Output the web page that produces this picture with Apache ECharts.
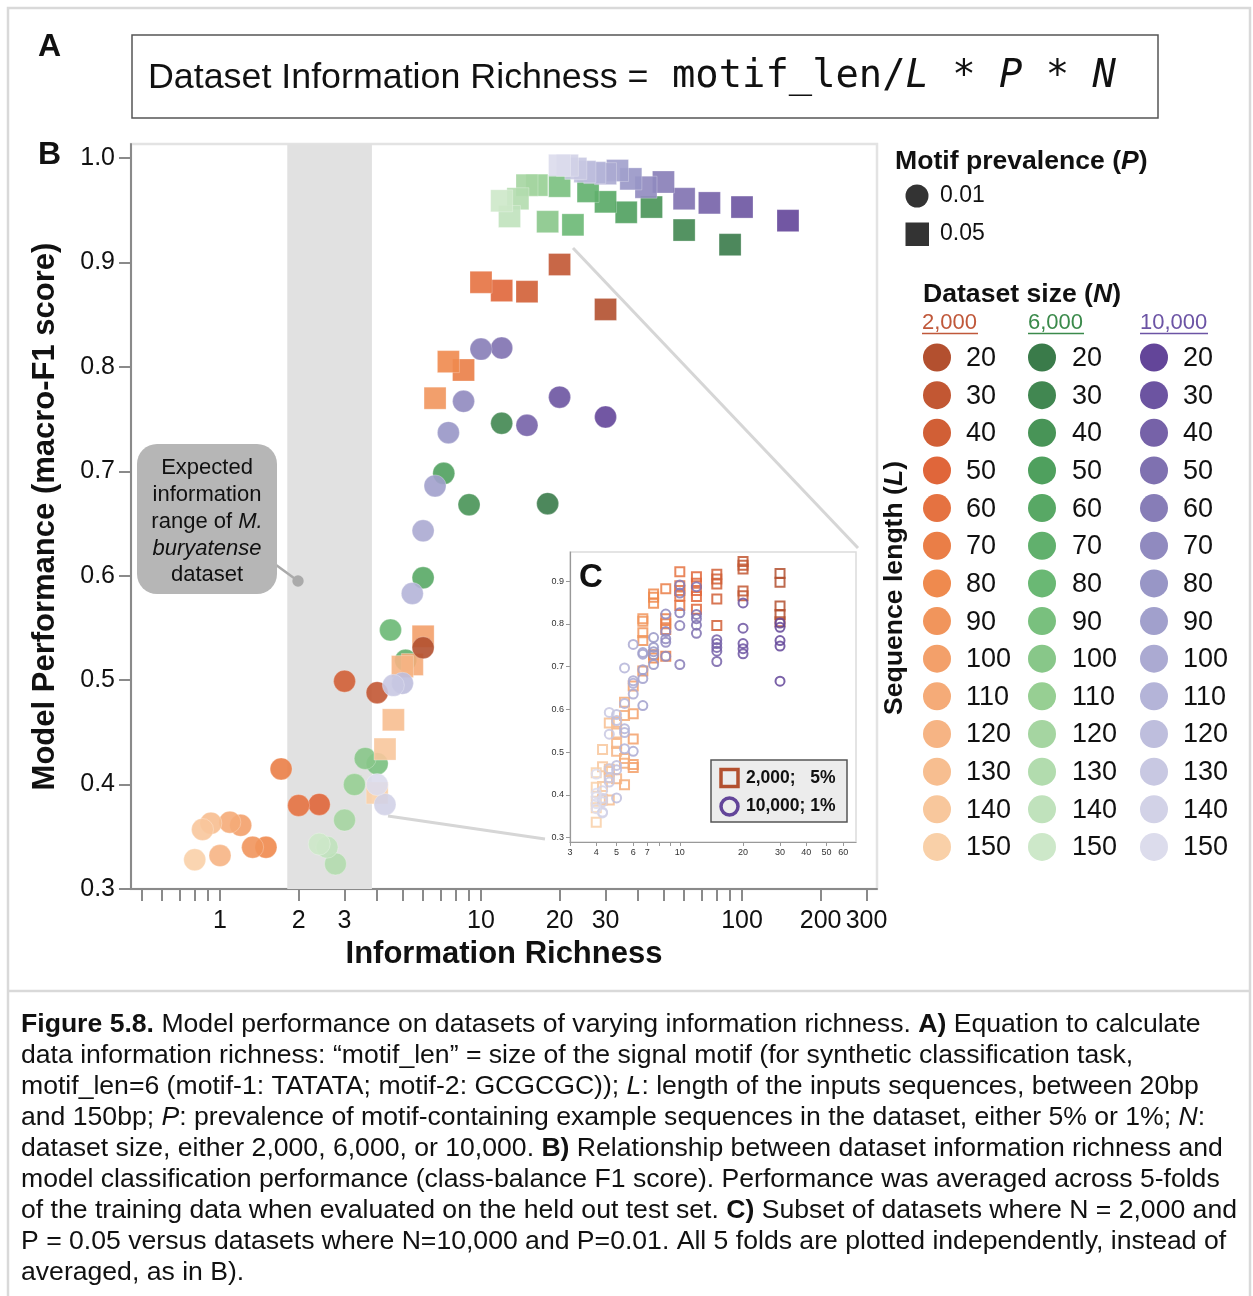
<!DOCTYPE html>
<html>
<head>
<meta charset="utf-8">
<script src="https://cdn.jsdelivr.net/npm/echarts@6/dist/echarts.min.js"></script>
<style>
  html, body { margin: 0; padding: 0; background: #fff; }
  #chart { width: 1253px; height: 1296px; }
</style>
</head>
<body>
<div id="chart"></div>
<script>
// ---- data -------------------------------------------------------------
const MOTIF_LEN = 6;
const seqLengths = [20, 30, 40, 50, 60, 70, 80, 90, 100, 110, 120, 130, 140, 150];

// mean macro-F1 over 5 folds, ordered by sequence length
const f1_2000_p01  = [0.531, 0.488, 0.499, 0.381, 0.380, 0.415, 0.340, 0.340, 0.361, 0.364, 0.332, 0.363, 0.357, 0.328];
const f1_2000_p05  = [0.855, 0.898, 0.872, 0.873, 0.881, 0.797, 0.805, 0.770, 0.542, 0.515, 0.513, 0.462, 0.434, 0.392];
const f1_6000_p01  = [0.669, 0.746, 0.668, 0.698, 0.598, 0.519, 0.548, 0.420, 0.425, 0.400, 0.366, 0.324, 0.340, 0.343];
const f1_6000_p05  = [0.917, 0.931, 0.953, 0.948, 0.958, 0.968, 0.936, 0.973, 0.939, 0.974, 0.974, 0.961, 0.944, 0.959];
const f1_10000_p01 = [0.752, 0.771, 0.744, 0.818, 0.817, 0.767, 0.737, 0.686, 0.643, 0.583, 0.497, 0.495, 0.381, 0.400];
const f1_10000_p05 = [0.940, 0.953, 0.957, 0.961, 0.977, 0.972, 0.980, 0.988, 0.985, 0.986, 0.987, 0.990, 0.993, 0.993];

// per-fold macro-F1 (5 folds per sequence length)
const folds_2000_p05 = [
  [0.918, 0.897, 0.842, 0.822, 0.805],
  [0.946, 0.937, 0.928, 0.877, 0.866],
  [0.916, 0.905, 0.893, 0.858, 0.796],
  [0.910, 0.895, 0.878, 0.864, 0.834],
  [0.922, 0.889, 0.878, 0.865, 0.843],
  [0.882, 0.812, 0.800, 0.787, 0.724],
  [0.870, 0.862, 0.848, 0.728, 0.720],
  [0.812, 0.806, 0.779, 0.761, 0.690],
  [0.655, 0.590, 0.531, 0.471, 0.464],
  [0.617, 0.586, 0.485, 0.474, 0.424],
  [0.570, 0.545, 0.520, 0.502, 0.438],
  [0.568, 0.460, 0.455, 0.440, 0.388],
  [0.506, 0.466, 0.420, 0.390, 0.388],
  [0.452, 0.418, 0.385, 0.370, 0.336]
];
const folds_10000_p01 = [
  [0.802, 0.792, 0.761, 0.748, 0.666],
  [0.849, 0.790, 0.754, 0.742, 0.730],
  [0.763, 0.754, 0.745, 0.736, 0.712],
  [0.887, 0.822, 0.812, 0.797, 0.778],
  [0.891, 0.872, 0.826, 0.796, 0.705],
  [0.823, 0.782, 0.765, 0.757, 0.724],
  [0.768, 0.745, 0.735, 0.728, 0.705],
  [0.733, 0.729, 0.693, 0.672, 0.609],
  [0.752, 0.667, 0.661, 0.636, 0.502],
  [0.697, 0.614, 0.555, 0.546, 0.508],
  [0.588, 0.574, 0.469, 0.459, 0.393],
  [0.593, 0.542, 0.461, 0.440, 0.430],
  [0.410, 0.392, 0.384, 0.360, 0.358],
  [0.449, 0.404, 0.396, 0.380, 0.368]
];

// axis ticks and labels
const mainXTicks  = [0.5, 0.6, 0.7, 0.8, 0.9, 1, 2, 3, 4, 5, 6, 7, 8, 9, 10, 20, 30, 40, 50, 60, 70, 80, 90, 100, 200, 300];
const mainXLabels = [1, 2, 3, 10, 20, 30, 100, 200, 300];
const mainYTicks  = [0.3, 0.4, 0.5, 0.6, 0.7, 0.8, 0.9, 1.0];
const insetXTicks  = [3, 4, 5, 6, 7, 8, 9, 10, 20, 30, 40, 50, 60];
const insetXLabels = [3, 4, 5, 6, 7, 10, 20, 30, 40, 50, 60];
const insetYTicks  = [0.3, 0.4, 0.5, 0.6, 0.7, 0.8, 0.9];
const expectedRange = [1.81, 3.82];

// ---- helpers ----------------------------------------------------------
function richness(L, P, N) { return MOTIF_LEN / L * P * N; }

function hexToRgb(h) { return [1, 3, 5].map(i => parseInt(h.slice(i, i + 2), 16)); }
function ramp(stops) {
  return function (L) {
    for (let k = 0; k < stops.length - 1; k++) {
      const [l0, c0] = stops[k], [l1, c1] = stops[k + 1];
      if (L <= l1) {
        const t = (L - l0) / (l1 - l0), a = hexToRgb(c0), b = hexToRgb(c1);
        return 'rgb(' + a.map((v, j) => Math.round(v + (b[j] - v) * t)).join(',') + ')';
      }
    }
    return stops[stops.length - 1][1];
  };
}
const palette = {
  2000:  ramp([[20, '#b3502f'], [50, '#e0663a'], [80, '#ef8a4e'], [110, '#f5ab78'], [150, '#f9d0a8']]),
  6000:  ramp([[20, '#3a7b4a'], [50, '#4fa05e'], [80, '#6ab874'], [110, '#97cf93'], [150, '#cde8c9']]),
  10000: ramp([[20, '#634599'], [50, '#7f71b0'], [80, '#9896c6'], [110, '#b4b4d8'], [150, '#dcdcec']])
};

const SANS = '"Liberation Sans", Arial, Helvetica, sans-serif';
const MONO = '"DejaVu Sans Mono", "Liberation Mono", monospace';

function fmtLog(v) { return v >= 1 ? String(Math.round(v)) : String(+v.toFixed(1)); }

// ---- series -----------------------------------------------------------
function mainSeries(N, P, values, symbol) {
  return {
    type: 'scatter', xAxisIndex: 0, yAxisIndex: 0,
    symbol: symbol, symbolSize: 22,
    itemStyle: { opacity: 0.9, borderColor: 'rgba(255,255,255,0.5)', borderWidth: 0.6 },
    data: seqLengths.map((L, i) => ({
      value: [richness(L, P, N), values[i]],
      itemStyle: { color: palette[N](L) }
    }))
  };
}
function insetSeries(N, P, folds, symbol) {
  const data = [];
  seqLengths.forEach((L, i) => {
    folds[i].forEach(v => data.push({
      value: [richness(L, P, N), v],
      itemStyle: { borderColor: palette[N](L) }
    }));
  });
  return {
    type: 'scatter', xAxisIndex: 1, yAxisIndex: 1, z: 5,
    symbol: symbol, symbolSize: 9,
    itemStyle: { color: 'rgba(255,255,255,0)', borderWidth: 2, opacity: 0.85 },
    data: data
  };
}

const series = [
  {
    type: 'scatter', xAxisIndex: 0, yAxisIndex: 0, data: [],
    markArea: {
      silent: true,
      itemStyle: { color: '#e1e1e1' },
      data: [[{ xAxis: expectedRange[0] }, { xAxis: expectedRange[1] }]]
    }
  },
  mainSeries(6000, 0.01, f1_6000_p01, 'circle'),
  mainSeries(2000, 0.05, f1_2000_p05, 'rect'),
  mainSeries(2000, 0.01, f1_2000_p01, 'circle'),
  mainSeries(10000, 0.01, f1_10000_p01, 'circle'),
  mainSeries(6000, 0.05, f1_6000_p05, 'rect'),
  mainSeries(10000, 0.05, f1_10000_p05, 'rect'),
  insetSeries(2000, 0.05, folds_2000_p05, 'rect'),
  insetSeries(10000, 0.01, folds_10000_p01, 'circle')
];

// ---- decorations, legend and caption ------------------------------------
const g = [];
function txt(x, y, text, o) {
  o = o || {};
  const el = {
    type: 'text', x: x, y: y, rotation: o.rotation || 0, z: 100,
    style: {
      text: text, x: 0, y: 0,
      fill: o.fill || '#111',
      fontSize: o.size || 20, fontFamily: o.family || SANS,
      fontWeight: o.weight || 'normal', fontStyle: o.style || 'normal',
      align: o.align || 'left', verticalAlign: o.valign || 'middle'
    }
  };
  if (o.rich) el.style.rich = o.rich;
  g.push(el);
}
function richSet(size, family, extra) {
  const base = { fontSize: size, fontFamily: family || SANS, fill: '#111' };
  return Object.assign({
    b: Object.assign({}, base, { fontWeight: 'bold' }),
    i: Object.assign({}, base, { fontStyle: 'italic' }),
    bi: Object.assign({}, base, { fontWeight: 'bold', fontStyle: 'italic' })
  }, extra || {});
}

// outer frame
g.push({ type: 'rect', z: 1, shape: { x: 8, y: 8, width: 1242, height: 1300 },
  style: { fill: 'none', stroke: '#d9d9d9', lineWidth: 2.5 } });
g.push({ type: 'line', z: 1, shape: { x1: 8, y1: 991, x2: 1250, y2: 991 },
  style: { stroke: '#d9d9d9', lineWidth: 2.5 } });

// panel A: equation
g.push({ type: 'rect', z: 1, shape: { x: 132, y: 35, width: 1026, height: 83 },
  style: { fill: '#fff', stroke: '#555', lineWidth: 1.5 } });
txt(148, 78, 'Dataset Information Richness =', { size: 35.8 });
txt(672, 77, '{m|motif_len/}{mi|L}{m| * }{mi|P}{m| * }{mi|N}', {
  size: 38.8, family: MONO,
  rich: {
    m: { fontSize: 38.8, fontFamily: MONO, fill: '#111' },
    mi: { fontSize: 38.8, fontFamily: MONO, fontStyle: 'italic', fill: '#111' }
  }
});
txt(38, 47, 'A', { size: 32, weight: 'bold' });
txt(38, 155, 'B', { size: 32, weight: 'bold' });

// callout for the expected range band
g.push({ type: 'line', z: 90, shape: { x1: 272, y1: 562, x2: 298, y2: 581 },
  style: { stroke: '#aaaaaa', lineWidth: 2.5 } });
g.push({ type: 'circle', z: 90, shape: { cx: 298, cy: 581, r: 5.7 }, style: { fill: '#aaaaaa' } });
g.push({ type: 'rect', z: 91, shape: { x: 137, y: 444, width: 140, height: 150, r: 20 },
  style: { fill: '#b6b6b6' } });
const calloutLines = ['Expected', 'information', 'range of {i|M.}', '{i|buryatense}', 'dataset'];
calloutLines.forEach((t, k) => txt(207, 468 + k * 26.8, t, { size: 22, align: 'center', rich: richSet(22) }));

// zoom connector lines between panel B and inset C
g.push({ type: 'line', z: 5, shape: { x1: 388, y1: 816, x2: 545, y2: 839 },
  style: { stroke: '#d6d6d6', lineWidth: 3 } });
g.push({ type: 'line', z: 5, shape: { x1: 573, y1: 248, x2: 858, y2: 548 },
  style: { stroke: '#d6d6d6', lineWidth: 3 } });

// inset C label and legend
txt(579, 578, 'C', { size: 33, weight: 'bold' });
g.push({ type: 'rect', z: 95, shape: { x: 711, y: 760, width: 136, height: 62 },
  style: { fill: '#ececec', stroke: '#555', lineWidth: 1.5 } });
g.push({ type: 'rect', z: 96, shape: { x: 721, y: 769.5, width: 17, height: 17 },
  style: { fill: 'none', stroke: palette[2000](20), lineWidth: 3.5 } });
g.push({ type: 'circle', z: 96, shape: { cx: 729.5, cy: 806.5, r: 8.5 },
  style: { fill: 'none', stroke: palette[10000](20), lineWidth: 3.5 } });
txt(746, 778.5, '2,000;   5%', { size: 17.5, weight: 'bold' });
txt(746, 806.5, '10,000; 1%', { size: 17.5, weight: 'bold' });

// right-hand legend: motif prevalence
txt(895, 162, '{b|Motif prevalence (}{bi|P}{b|)}', { size: 26.6, weight: 'bold', rich: richSet(26.6) });
g.push({ type: 'circle', z: 100, shape: { cx: 917, cy: 196, r: 11.5 }, style: { fill: '#333' } });
g.push({ type: 'rect', z: 100, shape: { x: 905.5, y: 222.5, width: 23.5, height: 23.5 }, style: { fill: '#333' } });
txt(940, 196, '0.01', { size: 23 });
txt(940, 234, '0.05', { size: 23 });

// right-hand legend: dataset size and sequence length
txt(923, 295, '{b|Dataset size (}{bi|N}{b|)}', { size: 26.6, weight: 'bold', rich: richSet(26.6) });
const sizeCols = [
  { N: 2000,  label: '2,000',  cx: 937,  tx: 966,  ux: 922,  head: '#c0583a' },
  { N: 6000,  label: '6,000',  cx: 1042, tx: 1072, ux: 1028, head: '#3b8a4b' },
  { N: 10000, label: '10,000', cx: 1154, tx: 1183, ux: 1140, head: '#6c54a5' }
];
sizeCols.forEach(c => {
  txt(c.ux, 322.5, c.label, { size: 22, fill: c.head });
  const w = c.label.length === 5 ? 56 : 68;
  g.push({ type: 'line', z: 100, shape: { x1: c.ux, y1: 333.5, x2: c.ux + w, y2: 333.5 },
    style: { stroke: c.head, lineWidth: 1.5 } });
  seqLengths.forEach((L, i) => {
    const y = 357.5 + i * 37.65;
    g.push({ type: 'circle', z: 100, shape: { cx: c.cx, cy: y, r: 14 }, style: { fill: palette[c.N](L) } });
    txt(c.tx, y + 1, String(L), { size: 27 });
  });
});
txt(895, 588, '{b|Sequence length (}{bi|L}{b|)}', {
  size: 26.6, weight: 'bold', align: 'center', rotation: Math.PI / 2, rich: richSet(26.6)
});

// caption
const captionLines = [
  '{b|Figure 5.8.} Model performance on datasets of varying information richness. {b|A)} Equation to calculate',
  'data information richness: \u201cmotif_len\u201d = size of the signal motif (for synthetic classification task,',
  'motif_len=6 (motif-1: TATATA; motif-2: GCGCGC)); {i|L}: length of the inputs sequences, between 20bp',
  'and 150bp; {i|P}: prevalence of motif-containing example sequences in the dataset, either 5% or 1%; {i|N}:',
  'dataset size, either 2,000, 6,000, or 10,000. {b|B)} Relationship between dataset information richness and',
  'model classification performance (class-balance F1 score). Performance was averaged across 5-folds',
  'of the training data when evaluated on the held out test set. {b|C)} Subset of datasets where N = 2,000 and',
  'P = 0.05 versus datasets where N=10,000 and P=0.01. All 5 folds are plotted independently, instead of',
  'averaged, as in B).'
];
captionLines.forEach((t, k) => txt(21, 1025 + k * 31, t, { size: 26.6, rich: richSet(26.6) }));

// ---- chart ------------------------------------------------------------
const axisGray = '#8a8a8a';
const option = {
  animation: false,
  backgroundColor: '#fff',
  grid: [
    { left: 131, top: 144, width: 746, height: 745, show: true, borderColor: '#e3e3e3', borderWidth: 2.5 },
    { left: 570, top: 552, width: 286, height: 290, show: true, backgroundColor: '#fff',
      borderColor: '#dcdcdc', borderWidth: 1.5 }
  ],
  xAxis: [
    {
      type: 'log', gridIndex: 0, logBase: 10, min: 0.456, max: 329,
      axisLine: { show: true, onZero: false, lineStyle: { color: axisGray, width: 2 } },
      axisTick: { show: true, length: 12, lineStyle: { color: axisGray, width: 2 }, customValues: mainXTicks },
      axisLabel: { customValues: mainXLabels, formatter: fmtLog, fontSize: 25, color: '#111',
        fontFamily: SANS, margin: 20 },
      minorTick: { show: false },
      splitLine: { show: false },
      name: 'Information Richness', nameLocation: 'middle', nameGap: 50,
      nameTextStyle: { fontSize: 31, fontWeight: 'bold', color: '#111', fontFamily: SANS }
    },
    {
      type: 'log', gridIndex: 1, logBase: 10, min: 3, max: 69,
      axisLine: { show: true, onZero: false, lineStyle: { color: '#999', width: 1.2 } },
      axisTick: { show: true, length: 4, lineStyle: { color: '#999', width: 1 }, customValues: insetXTicks },
      axisLabel: { customValues: insetXLabels, formatter: fmtLog, fontSize: 9, color: '#333',
        fontFamily: SANS, margin: 6 },
      splitLine: { show: false }
    }
  ],
  yAxis: [
    {
      type: 'value', gridIndex: 0, min: 0.3, max: 1.0134,
      axisLine: { show: true, onZero: false, lineStyle: { color: axisGray, width: 2 } },
      axisTick: { show: true, length: 12, lineStyle: { color: axisGray, width: 2 }, customValues: mainYTicks },
      axisLabel: { customValues: mainYTicks, formatter: v => v.toFixed(1), fontSize: 25, color: '#111',
        fontFamily: SANS, margin: 16 },
      splitLine: { show: false },
      name: 'Model Performance (macro-F1 score)', nameLocation: 'middle', nameGap: 70, nameRotate: 90,
      nameTextStyle: { fontSize: 31, fontWeight: 'bold', color: '#111', fontFamily: SANS }
    },
    {
      type: 'value', gridIndex: 1, min: 0.29, max: 0.968,
      axisLine: { show: true, onZero: false, lineStyle: { color: '#999', width: 1.2 } },
      axisTick: { show: true, length: 4, lineStyle: { color: '#999', width: 1 }, customValues: insetYTicks },
      axisLabel: { customValues: insetYTicks, formatter: v => v.toFixed(1), fontSize: 9, color: '#333',
        fontFamily: SANS, margin: 6 },
      splitLine: { show: false }
    }
  ],
  series: series,
  graphic: { elements: g }
};

const chart = echarts.init(document.getElementById('chart'), null, { renderer: 'canvas' });
chart.setOption(option);
</script>
</body>
</html>
